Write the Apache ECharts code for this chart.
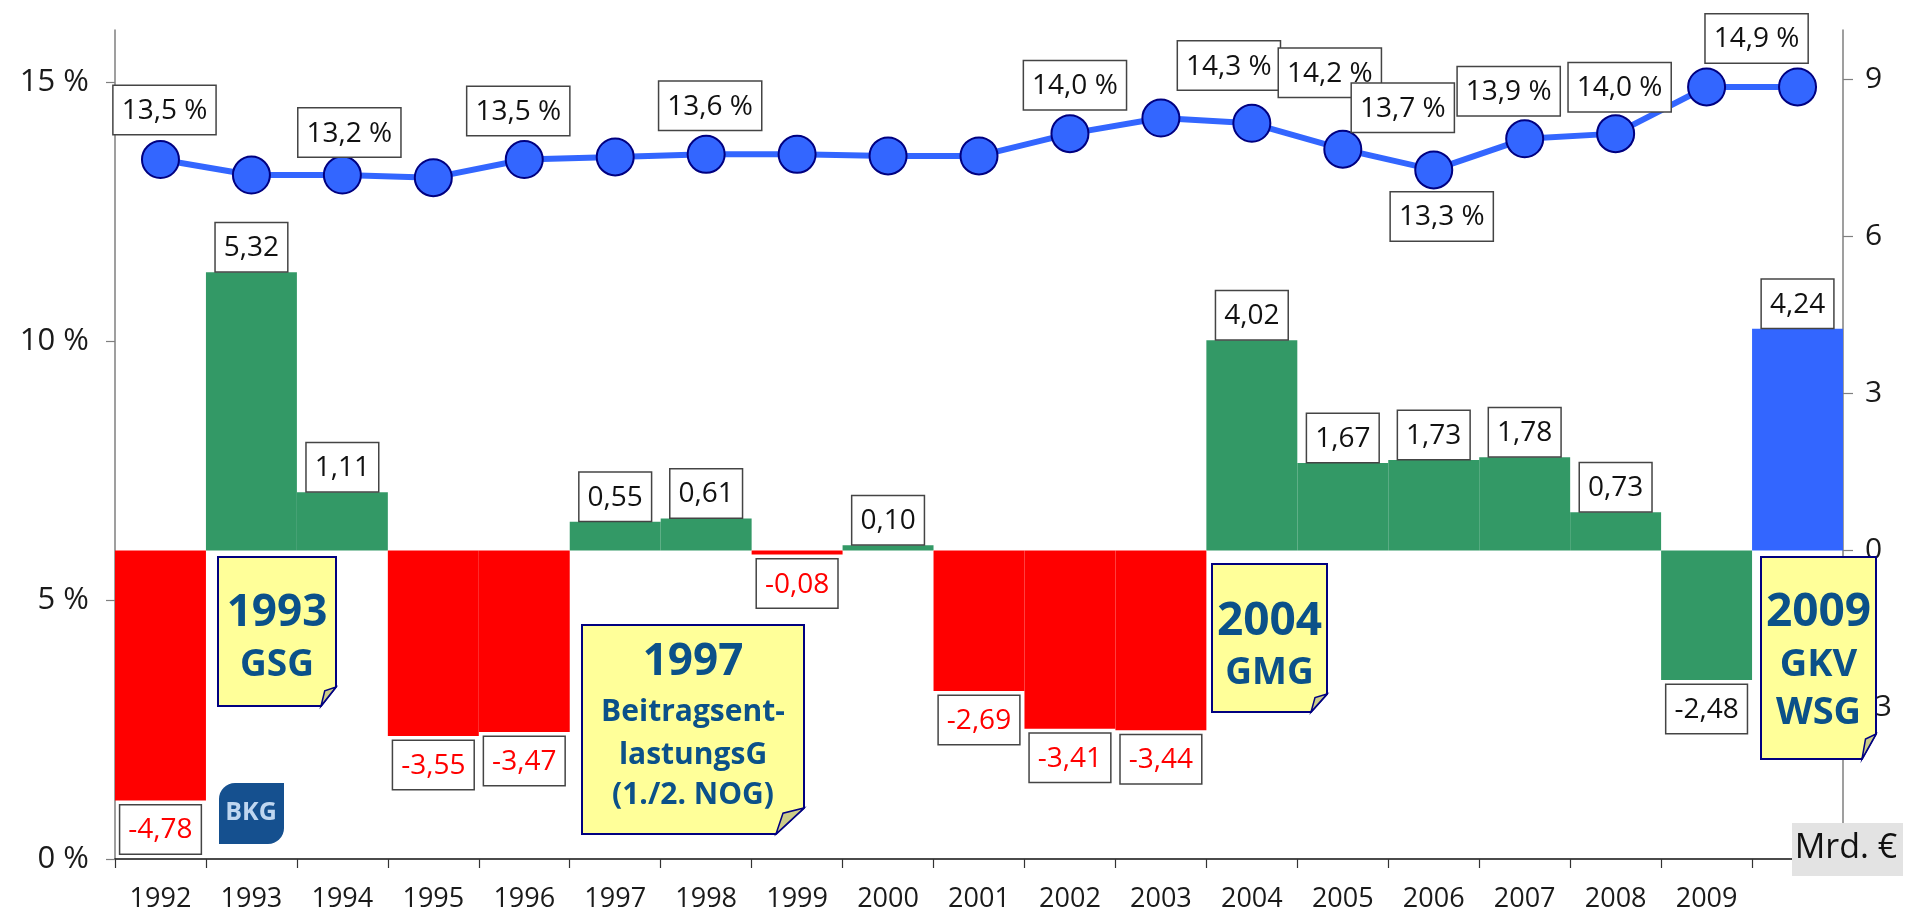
<!DOCTYPE html>
<html>
<head>
<meta charset="utf-8">
<title>GKV Beitragssatz und Finanzergebnis</title>
<script src="https://cdn.jsdelivr.net/npm/echarts@6/dist/echarts.min.js"></script>
<style>
  html, body { margin: 0; padding: 0; background: #fff; }
  #chart { width: 1917px; height: 915px; }
</style>
</head>
<body>
<div id="chart"></div>
<script>
// Daten
var years = ['1992', '1993', '1994', '1995', '1996', '1997', '1998', '1999', '2000',
  '2001', '2002', '2003', '2004', '2005', '2006', '2007', '2008', '2009', '']
// Beitragssatz in %
var beitragssatz = [13.5, 13.2, 13.2, 13.15, 13.5, 13.55, 13.6, 13.6, 13.57,
  13.57, 14.0, 14.3, 14.2, 13.7, 13.3, 13.9, 14.0, 14.9, 14.9]
// Finanzergebnis in Mrd. €
var finanzergebnis = [-4.78, 5.32, 1.11, -3.55, -3.47, 0.55, 0.61, -0.08, 0.10,
  -2.69, -3.41, -3.44, 4.02, 1.67, 1.73, 1.78, 0.73, -2.48, 4.24]
var leftTicks = [0, 5, 10, 15]
var rightTicks = [-3, 0, 3, 6, 9]

// Farben der Balken
var RED = '#FF0000', GREEN = '#339966', BLUE = '#3366FF'
var barColors = [RED, GREEN, GREEN, RED, RED, GREEN, GREEN, RED, GREEN,
  RED, RED, RED, GREEN, GREEN, GREEN, GREEN, GREEN, GREEN, BLUE]

// welche Punkte eine Beschriftung haben (und wo)
var lineLabelPos = {
  0: { offset: [4, -1] },
  2: { offset: [7, 6] },
  4: { offset: [-6, 0] },
  6: { offset: [4, 0] },
  10: { offset: [5, 0] },
  11: { offset: [68, -4] },
  12: { offset: [78, -2] },
  13: { offset: [60, 7] },
  14: { position: 'bottom', offset: [8, -2] },
  15: { offset: [-16, 1] },
  16: { offset: [4, 2] },
  17: { offset: [50, 0] }
}

var FONT = '"Open Sans", "Noto Sans", sans-serif'
var NOTE_TEXT = '#0B5189'

var myChart = echarts.init(document.getElementById('chart'))

var lineData = beitragssatz.map(function(v, i) {
  var pos = lineLabelPos[i]
  if (!pos) return v
  return {
    value: v,
    label: {
      show: true,
      position: pos.position || 'top',
      offset: pos.offset
    }
  }
})

var barData = finanzergebnis.map(function(v, i) {
  return {
    value: v,
    itemStyle: { color: barColors[i] },
    label: {
      position: v < 0 ? 'bottom' : 'top',
      distance: v < 0 ? 5 : 1,
      color: barColors[i] === RED ? '#FF0000' : '#111'
    }
  }
})

// gelbe Notizzettel
function note(l, t, r, b, fw, fh, lines) {
  var cx = (l + r) / 2
  var children = [
    {
      type: 'polygon',
      z: 100,
      shape: { points: [[l, t], [r, t], [r, b - fh], [r - fw, b], [l, b]] },
      style: { fill: '#FFFF99', stroke: '#000080', lineWidth: 2 }
    },
    {
      type: 'polygon',
      z: 101,
      shape: { points: [[r - fw, b], [r, b - fh], [r - fw * 0.75, b - fh * 0.8]] },
      style: { fill: '#CCCC88', stroke: '#000080', lineWidth: 1.5 }
    }
  ]
  lines.forEach(function(ln) {
    children.push({
      type: 'text',
      z: 102,
      x: cx,
      y: ln.y,
      style: {
        text: ln.text,
        fill: NOTE_TEXT,
        font: 'bold ' + ln.size + 'px ' + FONT,
        align: 'center',
        verticalAlign: 'middle'
      }
    })
  })
  return { type: 'group', z: 100, children: children }
}

var option = {
  animation: false,
  backgroundColor: '#fff',
  grid: {
    left: 115,
    right: 74,
    top: 30,
    bottom: 56,
    containLabel: false,
    outerBoundsMode: 'none'
  },
  xAxis: {
    type: 'category',
    data: years,
    boundaryGap: true,
    axisLine: { show: true, onZero: false, lineStyle: { color: '#111', width: 1.5 } },
    axisTick: { show: true, length: 9, lineStyle: { color: '#333', width: 1.2 } },
    axisLabel: {
      color: '#1a1a1a',
      fontSize: 27,
      fontFamily: FONT,
      margin: 27,
      interval: 0
    },
    splitLine: { show: false }
  },
  yAxis: [
    {
      type: 'value',
      min: 0,
      max: 16,
      position: 'left',
      axisLine: { show: true, lineStyle: { color: '#7f7f7f', width: 1.5 } },
      axisTick: { show: true, length: 9, customValues: leftTicks, lineStyle: { color: '#7f7f7f', width: 1.2 } },
      axisLabel: {
        customValues: leftTicks,
        color: '#1a1a1a',
        fontSize: 31,
        fontFamily: FONT,
        margin: 26,
        formatter: function(v) { return v + ' %' }
      },
      splitLine: { show: false }
    },
    {
      type: 'value',
      min: -5.9,
      max: 9.95,
      position: 'right',
      axisLine: { show: true, lineStyle: { color: '#7f7f7f', width: 1.5 } },
      axisTick: { show: true, length: 10, customValues: rightTicks, lineStyle: { color: '#7f7f7f', width: 1.2 } },
      axisLabel: {
        customValues: rightTicks,
        color: '#1a1a1a',
        fontSize: 30,
        fontFamily: FONT,
        margin: 22,
        align: 'left'
      },
      splitLine: { show: false }
    }
  ],
  series: [
    {
      name: 'Finanzergebnis',
      type: 'bar',
      yAxisIndex: 1,
      barWidth: '100%',
      barCategoryGap: '0%',
      data: barData,
      z: 2,
      emphasis: { disabled: true },
      label: {
        show: true,
        fontSize: 28,
        fontFamily: FONT,
        backgroundColor: '#fff',
        borderColor: '#444',
        borderWidth: 1.5,
        padding: [11, 8, 9, 8],
        formatter: function(p) { return p.value.toFixed(2).replace('.', ',') }
      }
    },
    {
      name: 'Beitragssatz',
      type: 'line',
      yAxisIndex: 0,
      data: lineData,
      z: 5,
      symbol: 'circle',
      symbolSize: 37,
      lineStyle: { color: '#3366FF', width: 6 },
      itemStyle: { color: '#3366FF', borderColor: '#000080', borderWidth: 2 },
      emphasis: { disabled: true },
      label: {
        show: false,
        fontSize: 28,
        fontFamily: FONT,
        color: '#111',
        backgroundColor: '#fff',
        borderColor: '#444',
        borderWidth: 1.5,
        padding: [11, 8, 9, 8],
        formatter: function(p) { return p.value.toFixed(1).replace('.', ',') + ' %' }
      }
    }
  ],
  graphic: [
    note(218, 557, 336, 706, 15, 19, [
      { text: '1993', size: 44, y: 613 },
      { text: 'GSG', size: 37, y: 665 }
    ]),
    note(582, 625, 804, 834, 28, 26, [
      { text: '1997', size: 44, y: 662 },
      { text: 'Beitragsent-', size: 30, y: 712 },
      { text: 'lastungsG', size: 30, y: 755 },
      { text: '(1./2. NOG)', size: 30, y: 795 }
    ]),
    note(1212, 564, 1327, 712, 16, 18, [
      { text: '2004', size: 46, y: 622 },
      { text: 'GMG', size: 37, y: 673 }
    ]),
    note(1761, 557, 1876, 759, 14, 25, [
      { text: '2009', size: 46, y: 613 },
      { text: 'GKV', size: 38, y: 665 },
      { text: 'WSG', size: 38, y: 713 }
    ]),
    // BKG Logo
    {
      type: 'group',
      z: 100,
      children: [
        {
          type: 'rect',
          z: 100,
          shape: { x: 219, y: 783, width: 65, height: 61, r: [16, 0, 16, 0] },
          style: { fill: '#15508F' }
        },
        {
          type: 'text',
          z: 101,
          x: 251,
          y: 813,
          style: {
            text: 'BKG',
            fill: '#BFD6F0',
            font: 'bold 25px ' + FONT,
            align: 'center',
            verticalAlign: 'middle'
          }
        }
      ]
    },
    // Einheit rechte Achse
    {
      type: 'group',
      z: 100,
      children: [
        {
          type: 'rect',
          z: 100,
          shape: { x: 1792, y: 823, width: 111, height: 53 },
          style: { fill: '#E3E3E3' }
        },
        {
          type: 'text',
          z: 101,
          x: 1846,
          y: 848,
          style: {
            text: 'Mrd. €',
            fill: '#111',
            font: '34px ' + FONT,
            align: 'center',
            verticalAlign: 'middle'
          }
        }
      ]
    }
  ]
}

myChart.setOption(option)
window.onresize = function() {
  myChart.resize()
}
</script>
</body>
</html>
